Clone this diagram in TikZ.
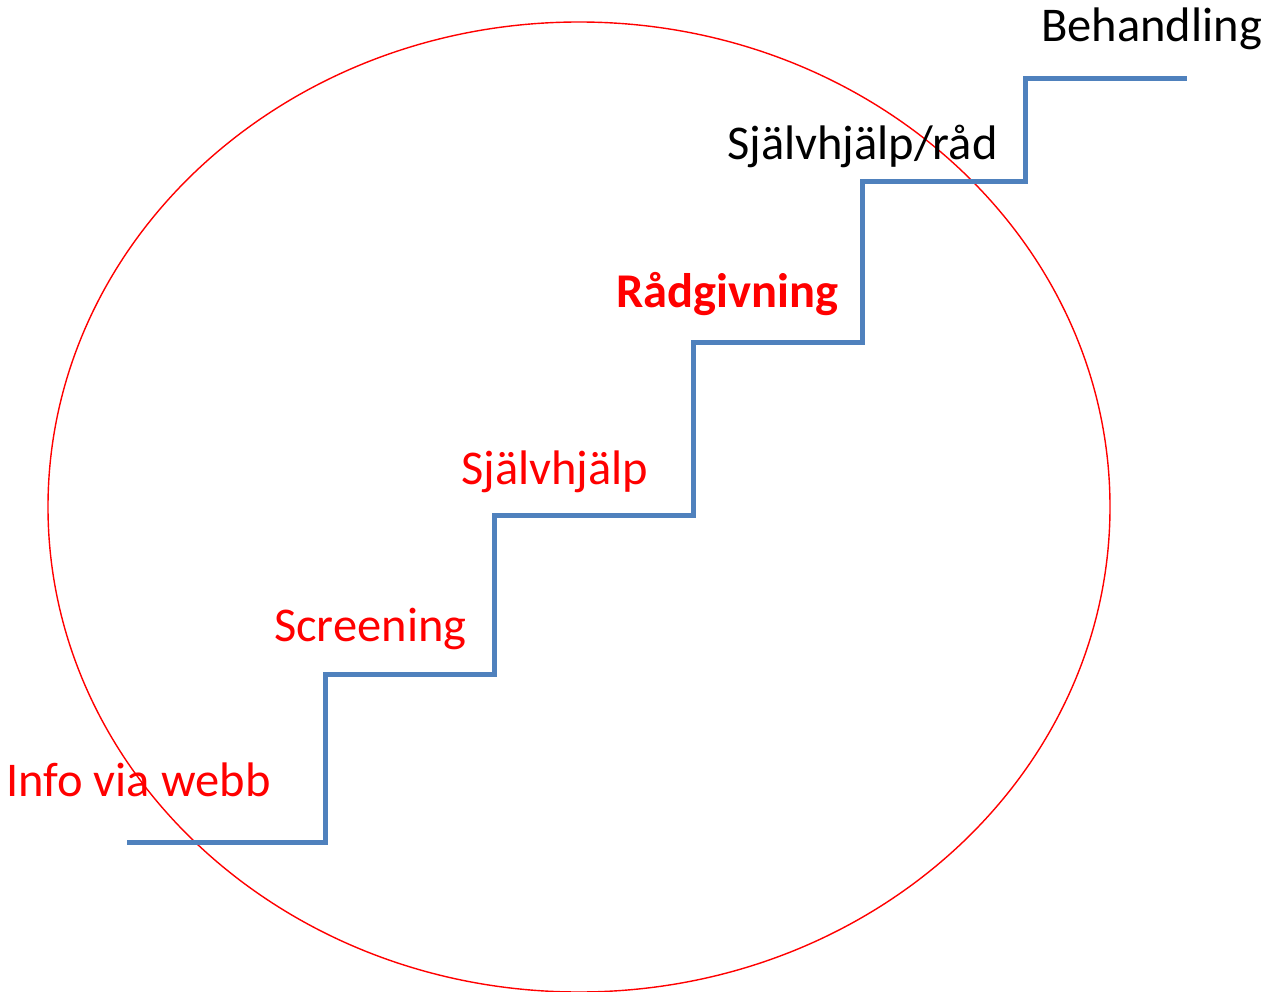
\documentclass[tikz,border=0pt]{standalone}
\usepackage{fontspec}
\setmainfont{Carlito}
\definecolor{stairblue}{HTML}{4F81BD}
\definecolor{lblred}{HTML}{FF0000}
\begin{document}
\begin{tikzpicture}[x=1pt,y=-1pt,
  lbl/.style={anchor=base west,inner sep=0pt,font=\fontsize{48.5}{58}\selectfont},
  redlbl/.style={lbl,text=lblred},
  stairline/.style={draw=stairblue,line width=5pt,line join=miter}]
\useasboundingbox (0,0) rectangle (1266,992);
\fill[white] (0,0) rectangle (1266,992);
\draw[lblred,line width=1.4pt] (579,507) ellipse [x radius=531, y radius=485];
\coordinate (s0) at (127,842);
\coordinate (s1) at (325,842);
\coordinate (s2) at (325,674);
\coordinate (s3) at (494,674);
\coordinate (s4) at (494,515);
\coordinate (s5) at (693,515);
\coordinate (s6) at (693,342);
\coordinate (s7) at (862,342);
\coordinate (s8) at (862,182);
\coordinate (s9) at (1025,182);
\coordinate (s10) at (1025,79);
\coordinate (s11) at (1187,79);
\draw[stairline] (s0) -- (s1) -- (s2) -- (s3) -- (s4) -- (s5) -- (s6) -- (s7) -- (s8) -- (s9) -- (s10) -- (s11);
\node[redlbl] (info) at (6,796) {Info via webb};
\node[redlbl] (scr) at (274,641) {Screening};
\node[redlbl] (sh) at (461,484) {Självhjälp};
\node[redlbl,font=\fontsize{48.5}{58}\selectfont\bfseries] (rad) at (616,308) {Rådgivning};
\node[lbl] (shr) at (727,160) {Självhjälp/råd};
\node[lbl] (beh) at (1041,42) {Behandling};
\end{tikzpicture}
\end{document}
